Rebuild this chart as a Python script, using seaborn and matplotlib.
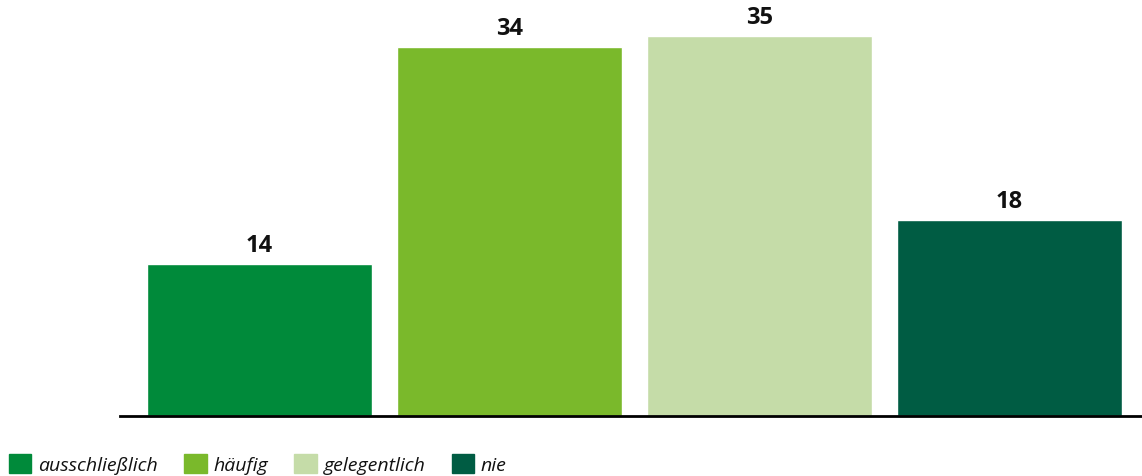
import matplotlib
matplotlib.use('Agg')
import matplotlib.pyplot as plt
import seaborn as sns
import pandas as pd

# data
categories = ['ausschließlich', 'häufig', 'gelegentlich', 'nie']
values = [14, 34, 35, 18]
colors = ['#008A3A', '#7AB92B', '#C5DCA8', '#005C43']

df = pd.DataFrame({'kategorie': categories, 'wert': values})

sns.set_theme(style='white')
plt.rcParams['font.family'] = ['Open Sans', 'DejaVu Sans']

fig = plt.figure(figsize=(11.42, 4.77), dpi=100)
ax = fig.add_axes([120 / 1142, (477 - 416.5) / 477, 1022 / 1142, 416.5 / 477])

sns.barplot(data=df, x='kategorie', y='wert', hue='kategorie',
            palette=colors, width=0.9, saturation=1, legend=False, ax=ax)

for cont in ax.containers:
    ax.bar_label(cont, padding=5, fontsize=17, fontweight='bold', color='#111111')

ax.set_xlim(-0.558, 3.53)
ax.set_ylim(0, 38.4)
ax.set_xlabel('')
ax.set_ylabel('')
ax.set_xticks([])
ax.set_yticks([])
for s in ['top', 'left', 'right']:
    ax.spines[s].set_visible(False)
ax.spines['bottom'].set_color('black')
ax.spines['bottom'].set_linewidth(2)

# legend along the bottom
handles = [plt.Rectangle((0, 0), 1, 1, color=c) for c in colors]
leg = fig.legend(handles, categories, loc='lower left',
                 bbox_to_anchor=(9 / 1142, 2 / 477),
                 ncol=4, frameon=False, handlelength=1.15, handleheight=1.15,
                 handletextpad=0.36, columnspacing=1.34, borderpad=0,
                 borderaxespad=0,
                 prop={'family': 'Open Sans', 'style': 'italic', 'size': 14})
for t in leg.get_texts():
    t.set_color('#111111')

fig.savefig('out.png', dpi=100, facecolor='white')
